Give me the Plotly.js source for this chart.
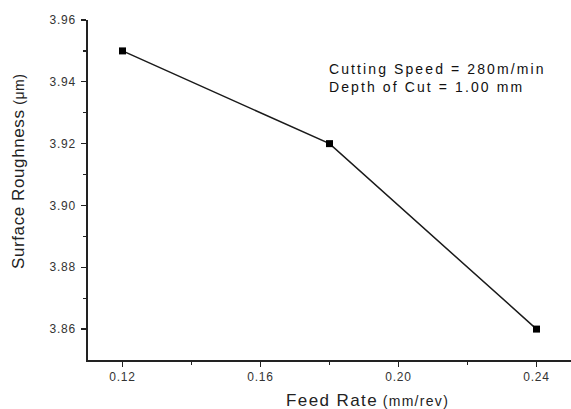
<!DOCTYPE html>
<html><head><meta charset="utf-8">
<script src="https://cdn.plot.ly/plotly-3.0.1.min.js"></script>
<style>html,body{margin:0;padding:0;background:#fff}#c{width:571px;height:409px}</style>
</head><body><div id="c"></div>
<script>
const feedRate = [0.12, 0.18, 0.24];
const roughness = [3.95, 3.92, 3.86];
const xTicks = [0.12, 0.16, 0.20, 0.24];
const xTickText = ['0.12', '0.16', '0.20', '0.24'];
const yTicks = [3.86, 3.88, 3.90, 3.92, 3.94, 3.96];
const yTickText = ['3.86', '3.88', '3.90', '3.92', '3.94', '3.96'];

const font = 'Arial, "Liberation Sans", sans-serif';
const sp = (t, ls) => '<span style="letter-spacing:' + ls + 'px">' + t + '</span>';
const trace = {
  x: feedRate, y: roughness, type: 'scatter', mode: 'lines+markers',
  line: {color: '#1a1a1a', width: 1.5},
  marker: {symbol: 'square', size: 7, color: '#000'},
  showlegend: false, hoverinfo: 'none'
};
const layout = {
  width: 571, height: 409,
  margin: {l: 88, r: 0, t: 20, b: 49},
  paper_bgcolor: '#fff', plot_bgcolor: '#fff',
  font: {family: font, color: '#333', size: 11},
  xaxis: {
    range: [0.11, 0.25], tickvals: xTicks, ticktext: xTickText.map(t => sp(t, 0.8)),
    showgrid: false, zeroline: false, showline: true, linecolor: '#222', linewidth: 1.6,
    ticks: 'outside', ticklen: 5, tickwidth: 1.3, tickcolor: '#222',
    tickfont: {size: 12, color: '#333'},
    minor: {tickvals: [0.14, 0.18, 0.22], ticks: 'outside', ticklen: 3, tickcolor: '#222', tickwidth: 1.2}
  },
  yaxis: {
    range: [3.85, 3.96], tickvals: yTicks, ticktext: yTickText.map(t => sp(t, 0.8)),
    showgrid: false, zeroline: false, showline: true, linecolor: '#222', linewidth: 1.6,
    ticks: 'outside', ticklen: 5, tickwidth: 1.3, tickcolor: '#222',
    tickfont: {size: 12, color: '#333'}, ticklabelstandoff: 3,
    minor: {tickvals: [3.87, 3.89, 3.91, 3.93, 3.95], ticks: 'outside', ticklen: 3, tickcolor: '#222', tickwidth: 1.2}
  },
  annotations: [
    {xref: 'paper', yref: 'paper', x: 0.5, y: 0, yshift: -40, xshift: 38, xanchor: 'center', yanchor: 'middle',
     showarrow: false,
     text: '<span style="font-size:17px;letter-spacing:1.4px">Feed Rate</span> <span style="font-size:14px;letter-spacing:1.3px">(mm/rev)</span>',
     font: {family: font, color: '#222', size: 17}},
    {xref: 'paper', yref: 'paper', x: 0, xshift: -70, y: 0.5, yshift: 18, xanchor: 'center', yanchor: 'middle',
     textangle: -90, showarrow: false,
     text: '<span style="font-size:17px;letter-spacing:0.6px">Surface Roughness</span> <span style="font-size:14px;letter-spacing:0.5px">(μm)</span>',
     font: {family: font, color: '#222', size: 17}},
    {xref: 'paper', yref: 'paper', x: 0.5, xshift: -3, y: 1, yshift: -39, xanchor: 'left', yanchor: 'top',
     align: 'left', showarrow: false,
     text: sp('Cutting Speed = 280m/min', 2.1) + '<br>' + sp('Depth of Cut = 1.00 mm', 2.1),
     font: {family: font, color: '#111', size: 14}}
  ]
};
Plotly.newPlot('c', [trace], layout, {staticPlot: true, displayModeBar: false});
</script></body></html>
